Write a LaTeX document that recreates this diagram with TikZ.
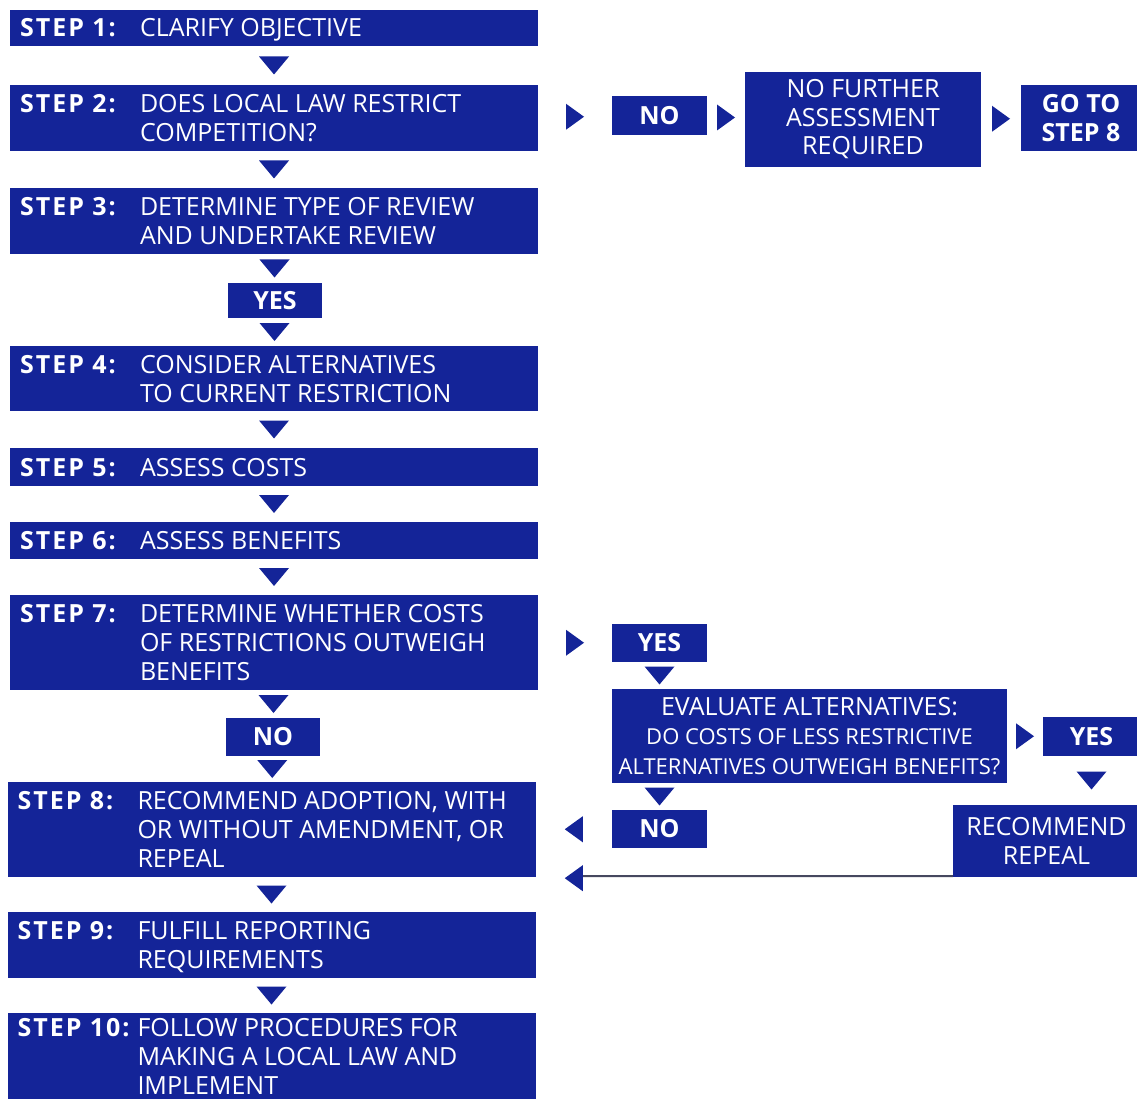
\documentclass[tikz,border=0pt]{standalone}
\usepackage{fontspec}
\setmainfont{Open Sans}
\newfontfamily\steplabelfont{Open Sans}[LetterSpace=8]
\usetikzlibrary{calc}
\definecolor{boxblue}{RGB}{20,36,152}
\definecolor{linegray}{RGB}{70,72,95}
\newcommand\mystrut{\rule[-5pt]{0pt}{28pt}}
\newcommand\stepcontent[2]{\parbox[t]{120pt}{\steplabelfont\bfseries\mystrut #1}\parbox[t]{388pt}{\raggedright\mystrut #2\mystrut}}
\tikzset{
  stepbox/.style={fill=boxblue, text=white, minimum width=528pt, inner xsep=10pt, inner ysep=0pt,
    font=\fontsize{25}{29}\selectfont},
  tagbox/.style={fill=boxblue, text=white, inner sep=0pt, align=center,
    font=\fontsize{25}{29}\selectfont\bfseries},
  infobox/.style={fill=boxblue, text=white, inner sep=0pt, align=center,
    font=\fontsize{25}{28.5}\selectfont},
  tdown/.pic={\fill[boxblue] (-15,-9) -- (15,-9) -- (0,9) -- cycle;},
  tright/.pic={\fill[boxblue] (-9,-13) -- (-9,13) -- (9,0) -- cycle;},
  tleft/.pic={\fill[boxblue] (9,-13) -- (9,13) -- (-9,0) -- cycle;},
}
\begin{document}
\begin{tikzpicture}[x=1pt,y=-1pt]
\useasboundingbox (0,0) rectangle (1137,1099);
% left column
\node[stepbox, minimum height=36pt] (s1) at (274,28) {\stepcontent{STEP 1:}{CLARIFY OBJECTIVE}};
\node[stepbox, minimum height=66pt] (s2) at (274,118) {\stepcontent{STEP 2:}{DOES LOCAL LAW RESTRICT\\COMPETITION?}};
\node[stepbox, minimum height=66pt] (s3) at (274,221) {\stepcontent{STEP 3:}{DETERMINE TYPE OF REVIEW\\AND UNDERTAKE REVIEW}};
\node[tagbox, minimum width=94pt, minimum height=35pt] (yes1) at (275,300.5) {YES};
\node[stepbox, minimum height=65pt] (s4) at (274,378.5) {\stepcontent{STEP 4:}{CONSIDER ALTERNATIVES\\TO CURRENT RESTRICTION}};
\node[stepbox, minimum height=38pt] (s5) at (274,467) {\stepcontent{STEP 5:}{ASSESS COSTS}};
\node[stepbox, minimum height=37pt] (s6) at (274,540.5) {\stepcontent{STEP 6:}{ASSESS BENEFITS}};
\node[stepbox, minimum height=95pt] (s7) at (274,642.5) {\stepcontent{STEP 7:}{DETERMINE WHETHER COSTS\\OF RESTRICTIONS OUTWEIGH\\BENEFITS}};
\node[tagbox, minimum width=94pt, minimum height=38pt] (no1) at (273,737) {NO};
\node[stepbox, minimum height=95pt] (s8) at (271.5,829.5) {\stepcontent{STEP 8:}{RECOMMEND ADOPTION, WITH\\OR WITHOUT AMENDMENT, OR\\REPEAL}};
\node[stepbox, minimum height=66pt] (s9) at (271.5,945) {\stepcontent{STEP 9:}{FULFILL REPORTING\\REQUIREMENTS}};
\node[stepbox, minimum height=86pt] (s10) at (271.5,1056) {\stepcontent{STEP 10:}{FOLLOW PROCEDURES FOR\\MAKING A LOCAL LAW AND\\IMPLEMENT}};
% top right
\node[tagbox, minimum width=95pt, minimum height=39pt] (no0) at (659.5,115.5) {NO};
\node[infobox, minimum width=236pt, minimum height=95pt] (nfar) at (863,119.5) {NO FURTHER\\ASSESSMENT\\REQUIRED};
\node[tagbox, minimum width=120pt, minimum height=66pt] (goto) at (1081,118) {GO TO\\STEP 8};
% step 7 branch
\node[tagbox, minimum width=95pt, minimum height=38pt] (yes2) at (659.5,643) {YES};
\node[infobox, minimum width=395pt, minimum height=94pt, font=\fontsize{22}{29.5}\selectfont] (eval) at (809.5,736)
  {{\fontsize{25}{29.5}\selectfont EVALUATE ALTERNATIVES:}\\DO COSTS OF LESS RESTRICTIVE\\ALTERNATIVES OUTWEIGH BENEFITS?};
\node[tagbox, minimum width=97pt, minimum height=39pt] (yes3) at (1091.5,736.5) {YES};
\node[infobox, minimum width=187pt, minimum height=72pt] (rr) at (1046.5,841) {RECOMMEND\\REPEAL};
\node[tagbox, minimum width=95pt, minimum height=38pt] (no2) at (659.5,829) {NO};
% connectors (triangles)
\path ($(s1.south)!0.5!(s2.north)$) pic {tdown};
\path ($(s2.south)!0.5!(s3.north)$) pic {tdown};
\path ($(s3.south)!0.5!(yes1.north)$) pic {tdown};
\path ($(yes1.south)!0.5!(s4.north)$) pic {tdown};
\path ($(s4.south)!0.5!(s5.north)$) pic {tdown};
\path ($(s5.south)!0.5!(s6.north)$) pic {tdown};
\path ($(s6.south)!0.5!(s7.north)$) pic {tdown};
\path ($(s7.south)!0.5!(no1.north)$) pic {tdown};
\path ($(no1.south)!0.5!(s8.north)$) pic {tdown};
\path ($(s8.south)!0.5!(s9.north)$) pic {tdown};
\path ($(s9.south)!0.5!(s10.north)$) pic {tdown};
\path ($(s2.east)!0.5!(no0.west)$) pic {tright};
\path ($(no0.east)!0.5!(nfar.west)$) pic {tright};
\path ($(nfar.east)!0.5!(goto.west)$) pic {tright};
\path ($(s7.east)!0.5!(yes2.west)$) pic {tright};
\path ($(yes2.south)!0.5!(eval.north -| yes2.south)$) pic {tdown};
\path ($(eval.east)!0.5!(yes3.west)$) pic {tright};
\path ($(yes3.south)!0.5!(yes3.south |- rr.north)$) pic {tdown};
\path ($(no2.north)!0.5!(no2.north |- eval.south)$) pic {tdown};
\path ($(s8.east)!0.5!(no2.west)$) pic {tleft};
\coordinate (tipR) at ($(s8.east |- rr.south)!0.5!(no2.west |- rr.south)$);
\draw[linegray, line width=2pt] ($(rr.south west)+(0,-1)$) -- ($(tipR)+(0,-1)$);
\path ($(tipR)+(0,1)$) pic {tleft};
\end{tikzpicture}
\end{document}
